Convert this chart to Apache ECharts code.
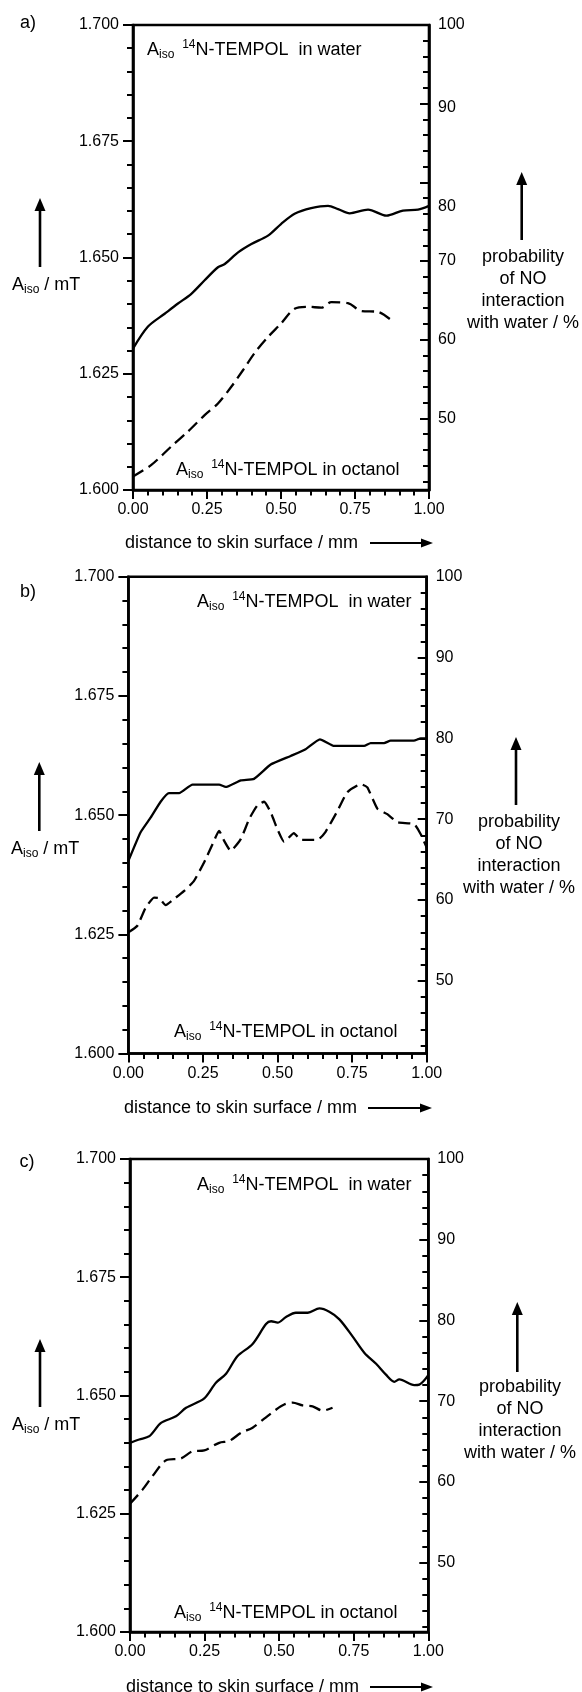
<!DOCTYPE html>
<html><head><meta charset="utf-8">
<script src="https://cdn.jsdelivr.net/npm/echarts@6.0.0/dist/echarts.min.js"></script>
<style>html,body{margin:0;padding:0;background:#fff}#c{width:582px;height:1692px}</style>
</head><body><div id="c"></div>
<script>
// ---------------- data ----------------
const xTicks = [0, 0.25, 0.5, 0.75, 1.0];
const leftTicks = [1.600, 1.625, 1.650, 1.675, 1.700];
const rightTicks = [50, 60, 70, 80, 90, 100];
const panelLabels = ['a)', 'b)', 'c)'];

// panel a
const aWaterX = [0,0.05,0.107,0.152,0.197,0.242,0.287,0.31,0.355,0.40,0.456,0.50,0.546,0.602,0.659,0.693,0.732,0.794,0.856,0.912,0.963,1.0];
const aWaterY = [1.6304,1.6351,1.6379,1.6401,1.6422,1.6451,1.6479,1.6486,1.6511,1.6529,1.6547,1.6572,1.6594,1.6606,1.6611,1.6604,1.6595,1.6603,1.6590,1.6601,1.6603,1.6611];
const aOctX = [0,0.062,0.13,0.186,0.242,0.287,0.332,0.372,0.41,0.456,0.50,0.546,0.591,0.636,0.67,0.726,0.771,0.828,0.873];
const aOctY = [1.6029,1.6054,1.6094,1.6126,1.6161,1.6186,1.6222,1.6258,1.6294,1.6329,1.6358,1.6390,1.6394,1.6392,1.6404,1.6402,1.6385,1.6383,1.6365];
// panel b
const bWaterX = [0,0.041,0.075,0.108,0.136,0.17,0.215,0.304,0.326,0.377,0.421,0.477,0.544,0.594,0.642,0.69,0.79,0.812,0.857,0.879,0.957,0.98,1.0];
const bWaterY = [1.6404,1.6464,1.6495,1.6528,1.6546,1.6546,1.6564,1.6564,1.6559,1.6573,1.6576,1.6606,1.6624,1.6638,1.6659,1.6645,1.6645,1.6651,1.6651,1.6656,1.6656,1.6661,1.6661];
const bOctX = [0,0.03,0.058,0.086,0.103,0.125,0.153,0.187,0.22,0.254,0.282,0.304,0.321,0.343,0.377,0.405,0.432,0.455,0.477,0.499,0.522,0.555,0.578,0.634,0.661,0.701,0.734,0.779,0.801,0.835,0.868,0.902,0.958,0.98,1.0];
const bOctY = [1.6254,1.6268,1.6306,1.6327,1.6326,1.6311,1.6324,1.6341,1.6362,1.6401,1.6439,1.6467,1.6446,1.6425,1.6450,1.6492,1.6520,1.6528,1.6506,1.6471,1.6444,1.6462,1.6448,1.6448,1.6465,1.6509,1.6548,1.6565,1.6558,1.6513,1.6502,1.6485,1.6481,1.6460,1.6432];
// panel c
const cWaterX = [0,0.031,0.065,0.104,0.154,0.188,0.249,0.288,0.322,0.36,0.411,0.456,0.473,0.495,0.523,0.556,0.596,0.635,0.668,0.702,0.746,0.786,0.825,0.858,0.886,0.903,0.953,0.97,1.0];
const cWaterY = [1.6400,1.6407,1.6414,1.6442,1.6456,1.6474,1.6494,1.6527,1.6546,1.6583,1.6609,1.6651,1.6657,1.6654,1.6666,1.6675,1.6675,1.6684,1.6677,1.6661,1.6625,1.6590,1.6567,1.6544,1.6529,1.6534,1.6522,1.6523,1.6543];
const cOctX = [0,0.042,0.076,0.121,0.171,0.21,0.249,0.299,0.333,0.372,0.411,0.45,0.489,0.517,0.545,0.579,0.612,0.646,0.679];
const cOctY = [1.6271,1.6301,1.6330,1.6363,1.6367,1.6382,1.6384,1.6400,1.6404,1.6421,1.6432,1.6451,1.6470,1.6481,1.6485,1.6479,1.6477,1.6468,1.6474];

// right axis lower bound (probability at A = 1.600) per panel
const rightMin = [40.9, 41.0, 41.4];
const rightMinorStart = 42;   // first minor tick on the right axis (ticks every 2 %)

// ---------------- layout ----------------
const FONT = "'Liberation Sans', Arial, Helvetica, sans-serif";
const BLACK = '#000';
const layout = [
  { grid:{left:133, top:25, width:296, height:465}, smooth:0.3,
    label:[28,23], water:[147,50], oct:[176,470], yTitle:[12,285], yArrow:[40,198,267],
    rArrow:[521.7,172,240], rText:[523,246], xTitle:[125,543], xArrow:[370,433,543],
    shiftLabels:{80:64, 90:24} },
  { grid:{left:128.4, top:576.7, width:298.3, height:476.8}, smooth:0.15,
    label:[28,592], water:[197,602], oct:[174,1032], yTitle:[11,849], yArrow:[39.3,762,831],
    rArrow:[516,737,805], rText:[519,811], xTitle:[124,1108], xArrow:[368,432,1108],
    shiftLabels:{} },
  { grid:{left:130, top:1159, width:298.3, height:473}, smooth:0.3,
    label:[27,1162], water:[197,1185], oct:[174,1613], yTitle:[12,1425], yArrow:[40,1339,1407],
    rArrow:[517.3,1302,1372], rText:[520,1376], xTitle:[126,1687], xArrow:[370,433,1687],
    shiftLabels:{} }
];
const seriesData = [
  [[aWaterX,aWaterY],[aOctX,aOctY]],
  [[bWaterX,bWaterY],[bOctX,bOctY]],
  [[cWaterX,cWaterY],[cOctX,cOctY]]
];

const grids = [], xAxes = [], yAxes = [], series = [], graphics = [];

const axisLineStyle = { show:true, onZero:false, lineStyle:{ color:BLACK, width:2.6 } };
const tickLine = { color:BLACK, width:2 };
const labelBase = { color:BLACK, fontSize:16, fontFamily:FONT };

layout.forEach((L, p) => {
  const pMin = rightMin[p];
  grids.push(Object.assign({ show:true, borderColor:BLACK, borderWidth:2.6, backgroundColor:'transparent' }, L.grid));
  // companion grid carrying only the right-axis minor ticks: its value range starts at 42 so that
  // ticks every 2 % fall on the same pixel positions as in the main right axis
  const minorH = L.grid.height * (100 - rightMinorStart) / (100 - pMin);
  grids.push({ show:false, left:L.grid.left, top:L.grid.top, width:L.grid.width, height:minorH });
  const gMain = 2*p, gMinor = 2*p+1;

  xAxes.push({
    gridIndex:gMain, type:'value', position:'bottom', min:0, max:1, interval:0.25,
    axisLine:axisLineStyle,
    axisTick:{ show:true, length:9, lineStyle:tickLine },
    minorTick:{ show:true, splitNumber:5, length:5.5, lineStyle:tickLine },
    axisLabel:Object.assign({ margin:12, formatter:v=>v.toFixed(2) }, labelBase),
    splitLine:{show:false}, minorSplitLine:{show:false}
  });
  xAxes.push({ gridIndex:gMinor, type:'value', min:0, max:1, show:false, axisLine:{onZero:false} });

  yAxes.push({
    gridIndex:gMain, type:'value', position:'left', min:1.6, max:1.7, interval:0.025,
    axisLine:axisLineStyle,
    axisTick:{ show:true, length:10, lineStyle:tickLine },
    minorTick:{ show:true, splitNumber:5, length:6, lineStyle:tickLine },
    axisLabel:Object.assign({ margin:14, formatter:v=>v.toFixed(3) }, labelBase),
    splitLine:{show:false}, minorSplitLine:{show:false}
  });
  const rich = {};
  Object.keys(L.shiftLabels).forEach(k => {
    rich['s'+k] = { lineHeight:L.shiftLabels[k], verticalAlign:'bottom', fontSize:16, color:BLACK, fontFamily:FONT };
  });
  yAxes.push({
    gridIndex:gMain, type:'value', position:'right', min:pMin, max:100, splitNumber:5,
    axisLine:axisLineStyle,
    axisTick:{ show:true, inside:true, length:9, lineStyle:tickLine },
    axisLabel:Object.assign({ margin:9, showMinLabel:false, rich:rich,
      formatter:v => (rightTicks.indexOf(v) < 0 ? '' : (L.shiftLabels[v] ? '{s'+v+'|'+v+'}' : String(v))) }, labelBase),
    splitLine:{show:false}
  });
  yAxes.push({
    gridIndex:gMinor, type:'value', position:'right', min:rightMinorStart, max:100, interval:2,
    axisLine:{show:false, onZero:false},
    axisTick:{ show:true, inside:true, length:6, lineStyle:tickLine },
    axisLabel:{show:false}, splitLine:{show:false}
  });

  const [w, o] = seriesData[p];
  series.push({
    type:'line', xAxisIndex:gMain, yAxisIndex:3*p, data:w[0].map((x,i)=>[x, w[1][i]]),
    symbol:'none', smooth:L.smooth, silent:true,
    lineStyle:{ color:BLACK, width:2.3, type:'solid' }
  });
  series.push({
    type:'line', xAxisIndex:gMain, yAxisIndex:3*p, data:o[0].map((x,i)=>[x, o[1][i]]),
    symbol:'none', smooth:L.smooth, silent:true,
    lineStyle:{ color:BLACK, width:2.3, type:[12,6] }
  });

  // ----- annotations -----
  const richT = {
    m:{ fontSize:18, fontFamily:FONT, fill:BLACK, color:BLACK, lineHeight:22 },
    g:{ fontSize:28, fontFamily:FONT, fill:BLACK, color:BLACK, lineHeight:22 },
    sub:{ fontSize:12, fontFamily:FONT, fill:BLACK, color:BLACK, lineHeight:12, verticalAlign:'bottom' },
    sup:{ fontSize:12, fontFamily:FONT, fill:BLACK, color:BLACK, lineHeight:12, verticalAlign:'top' }
  };
  const txt = (x, y, text, extra) => ({ type:'text', x:x, y:y, silent:true, style:Object.assign({
      text:text, fontSize:18, fontFamily:FONT, fill:BLACK,
      textAlign:'left', align:'left', textVerticalAlign:'middle', verticalAlign:'middle' }, extra||{}) });
  graphics.push(txt(L.label[0], L.label[1], panelLabels[p], { textAlign:'center', align:'center' }));
  graphics.push(txt(L.water[0], L.water[1], '{m|A}{sub|iso}{g| }{sup|14}{m|N-TEMPOL  in water}', { rich:richT }));
  graphics.push(txt(L.oct[0], L.oct[1], '{m|A}{sub|iso}{g| }{sup|14}{m|N-TEMPOL in octanol}', { rich:richT }));
  graphics.push(txt(L.yTitle[0], L.yTitle[1], '{m|A}{sub|iso}{m| / mT}', { rich:richT }));
  graphics.push(txt(L.rText[0], L.rText[1], 'probability\nof NO\ninteraction\nwith water / %',
    { textAlign:'center', align:'center', textVerticalAlign:'top', verticalAlign:'top', lineHeight:22 }));
  graphics.push(txt(L.xTitle[0], L.xTitle[1], 'distance to skin surface / mm'));

  const vArrow = (x, yTip, yBot) => {
    graphics.push({ type:'line', silent:true, shape:{x1:x, y1:yTip+8, x2:x, y2:yBot}, style:{stroke:BLACK, lineWidth:2.6} });
    graphics.push({ type:'polygon', silent:true, shape:{points:[[x,yTip],[x-5.5,yTip+13],[x+5.5,yTip+13]]}, style:{fill:BLACK} });
  };
  vArrow(L.yArrow[0], L.yArrow[1], L.yArrow[2]);
  vArrow(L.rArrow[0], L.rArrow[1], L.rArrow[2]);
  const [hx1, hx2, hy] = L.xArrow;
  graphics.push({ type:'line', silent:true, shape:{x1:hx1, y1:hy, x2:hx2-8, y2:hy}, style:{stroke:BLACK, lineWidth:2.2} });
  graphics.push({ type:'polygon', silent:true, shape:{points:[[hx2,hy],[hx2-12,hy-4.5],[hx2-12,hy+4.5]]}, style:{fill:BLACK} });
});

const chart = echarts.init(document.getElementById('c'), null, { renderer:'canvas' });
chart.setOption({
  animation:false,
  backgroundColor:'#fff',
  textStyle:{ fontFamily:FONT, color:BLACK },
  grid:grids, xAxis:xAxes, yAxis:yAxes, series:series,
  graphic:{ elements:graphics }
});
</script></body></html>
